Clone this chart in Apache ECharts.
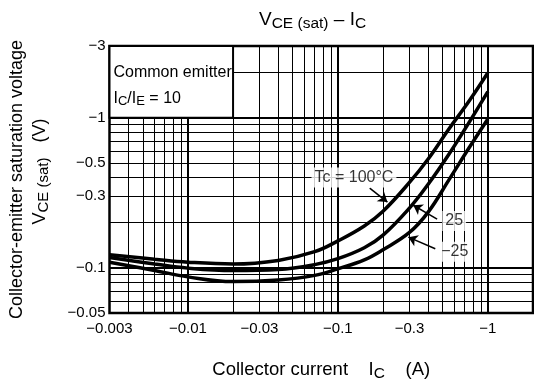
<!DOCTYPE html>
<html>
<head>
<meta charset="utf-8">
<script src="https://cdn.jsdelivr.net/npm/echarts@6.0.0/dist/echarts.min.js"></script>
<style>
  html, body { margin: 0; padding: 0; background: #fff; }
  #chart { width: 534px; height: 387px; }
</style>
</head>
<body>
<div id="chart"></div>
<script>
// collector current |Ic| (A)
const current = [0.003, 0.006, 0.01, 0.02, 0.04, 0.07, 0.1, 0.15, 0.2, 0.3, 0.4, 0.55, 0.75, 1];
// |VCE(sat)| (V) for each case temperature
const vce100 = [0.122, 0.114, 0.109, 0.106, 0.112, 0.128, 0.151, 0.19, 0.238, 0.37, 0.53, 0.84, 1.29, 1.99];
const vce25 = [0.117, 0.106, 0.0995, 0.096, 0.0975, 0.105, 0.115, 0.136, 0.165, 0.25, 0.36, 0.57, 0.93, 1.49];
const vceM25 = [0.109, 0.096, 0.087, 0.081, 0.083, 0.089, 0.0985, 0.113, 0.132, 0.172, 0.235, 0.385, 0.63, 0.98];

// axis labels and grid lines
const xLabels = [0.003, 0.01, 0.03, 0.1, 0.3, 1];
const yLabels = [0.05, 0.1, 0.3, 0.5, 1, 3];
const xGrid = [0.003, 0.004, 0.005, 0.006, 0.007, 0.008, 0.009,
  0.01, 0.02, 0.03, 0.04, 0.05, 0.06, 0.07, 0.08, 0.09,
  0.1, 0.2, 0.3, 0.4, 0.5, 0.6, 0.7, 0.8, 0.9, 1, 2];
const yGrid = [0.05, 0.06, 0.07, 0.08, 0.09,
  0.1, 0.2, 0.3, 0.4, 0.5, 0.6, 0.7, 0.8, 0.9, 1, 2, 3];
const xDecades = [0.01, 0.1, 1];
const yDecades = [0.1, 1];

// annotations: [x, y, text]
const notes = [
  [0.128, 0.40, 'Tc = 100°C'],
  [0.596, 0.205, '25'],
  [0.602, 0.128, '−25']
];
// arrows: [from, to]
const arrows = [
  [[0.163, 0.339], [0.214, 0.274]],
  [[0.459, 0.211], [0.318, 0.261]],
  [[0.446, 0.134], [0.295, 0.160]]
];

const FONT = 'Liberation Sans, Arial, sans-serif';
const fmt = v => '−' + parseFloat(Number(v).toPrecision(6));

const chart = echarts.init(document.getElementById('chart'));

const curve = vals => ({
  type: 'line',
  smooth: 0.4,
  showSymbol: false,
  symbol: 'none',
  silent: true,
  lineStyle: { color: '#000', width: 3.5 },
  data: current.map((c, i) => [c, vals[i]])
});

const txt = (size, extra) => Object.assign(
  { fontFamily: FONT, fontSize: size, fontWeight: 'normal', color: '#000' }, extra || {});

const option = {
  animation: false,
  backgroundColor: '#fff',
  title: {
    text: '{v|V}{s|CE (sat)}{v| – I}{s|C}',
    left: 254,
    top: 4,
    textStyle: {
      fontWeight: 'normal',
      rich: {
        v: txt(19, { lineHeight: 22 }),
        s: txt(15.5, { lineHeight: 16, padding: [7, 0, 0, 0] })
      }
    }
  },
  grid: {
    left: 107, right: 1, top: 46, bottom: 73,
    show: true, borderColor: '#000', borderWidth: 2.5
  },
  xAxis: [
    {
      type: 'log', logBase: 10, min: 0.003, max: 2,
      name: '{n|Collector current    I}{s|C}{n|    (A)}',
      nameLocation: 'middle', nameGap: 46,
      nameTextStyle: {
        rich: {
          n: txt(18.5, { lineHeight: 22 }),
          s: txt(15.5, { lineHeight: 16, padding: [8, 0, 0, 0] })
        }
      },
      axisLine: { show: false },
      axisTick: { show: false, customValues: xGrid },
      axisLabel: {
        customValues: xLabels, formatter: fmt, margin: 8,
        fontFamily: FONT, fontSize: 15, color: '#000'
      },
      splitLine: { show: true, lineStyle: { color: '#000', width: 1 } },
      minorSplitLine: { show: false }
    },
    {
      type: 'log', logBase: 10, min: 0.003, max: 2, position: 'top',
      axisLine: { show: false },
      axisTick: { show: false, customValues: xDecades },
      axisLabel: { show: false },
      splitLine: { show: true, lineStyle: { color: '#000', width: 2 } }
    }
  ],
  yAxis: [
    {
      type: 'log', logBase: 10, min: 0.05, max: 3,
      name: '{n|Collector-emitter saturation voltage}\n{f|V}{s|CE (sat)}{n|   (V)}',
      nameLocation: 'middle', nameRotate: 90, nameGap: 58,
      nameTextStyle: {
        rich: {
          n: txt(18, { lineHeight: 23 }),
          f: txt(18, { lineHeight: 23, padding: [0, 0, 0, 16] }),
          s: txt(15, { lineHeight: 16, padding: [7, 0, 0, 0] })
        }
      },
      axisLine: { show: false },
      axisTick: { show: false, customValues: yGrid },
      axisLabel: {
        customValues: yLabels, formatter: fmt, margin: 4,
        fontFamily: FONT, fontSize: 15, color: '#000'
      },
      splitLine: { show: true, lineStyle: { color: '#000', width: 1 } }
    },
    {
      type: 'log', logBase: 10, min: 0.05, max: 3, position: 'right',
      axisLine: { show: false },
      axisTick: { show: false, customValues: yDecades },
      axisLabel: { show: false },
      splitLine: { show: true, lineStyle: { color: '#000', width: 2 } }
    }
  ],
  series: [
    {
      // "Common emitter" box, covers the grid in the upper left
      type: 'line',
      data: [],
      silent: true,
      markArea: {
        silent: true,
        itemStyle: { color: '#fff', borderColor: '#000', borderWidth: 2 },
        label: {
          show: true,
          position: 'insideLeft',
          distance: 5,
          padding: [7, 0, 0, 0],
          formatter: '{n|Common emitter}\n{n|I}{s|C}{n|/I}{s|E}{n| = 10}',
          rich: {
            n: txt(16, { lineHeight: 26 }),
            s: txt(13, { lineHeight: 15, padding: [7, 0, 0, 0] })
          }
        },
        data: [[{ coord: [0.003, 1] }, { coord: [0.02, 3] }]]
      }
    },
    curve(vce100),
    curve(vce25),
    curve(vceM25),
    {
      type: 'line',
      data: [],
      silent: true,
      markLine: {
        silent: true,
        symbol: ['none', 'arrow'],
        symbolSize: 9,
        label: { show: false },
        lineStyle: { color: '#000', width: 1.5, type: 'solid' },
        data: arrows.map(a => [{ coord: a[0] }, { coord: a[1] }])
      }
    },
    {
      type: 'scatter',
      symbolSize: 0,
      silent: true,
      z: 5,
      label: {
        show: true,
        position: 'inside',
        formatter: p => p.data[2],
        fontFamily: FONT, fontSize: 16, color: '#000',
        backgroundColor: '#fff', padding: [2, 3]
      },
      data: notes
    }
  ]
};

chart.setOption(option);
</script>
</body>
</html>
